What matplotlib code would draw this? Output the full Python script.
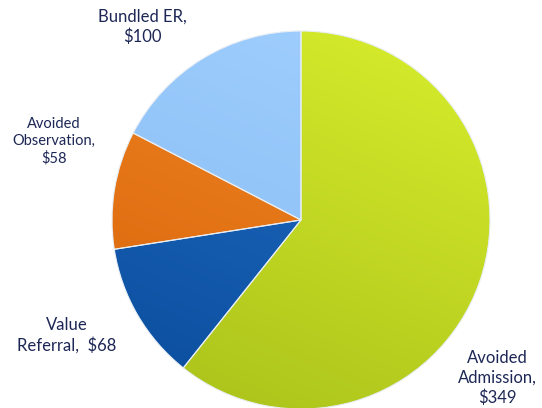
import matplotlib
matplotlib.use("Agg")
import matplotlib.pyplot as plt
import numpy as np
from matplotlib.colors import LinearSegmentedColormap

labels = ["Avoided\nAdmission,\n$349", "Value\nReferral,  $68",
          "Avoided\nObservation,\n$58", "Bundled ER,\n$100"]
values = [349, 68, 58, 100]
# (light, dark) pairs for the shaded look
shades = [("#d8ee2c", "#a9c01a"), ("#2370c8", "#0a4c9c"),
          ("#f38c26", "#d8620a"), ("#a2d0ff", "#84baf2")]

W, H = 542, 408
fig = plt.figure(figsize=(W / 100, H / 100), dpi=100)
ax = fig.add_axes([0, 0, 1, 1])

cx, cy, r = 301, H - 220, 189
wedges, _ = ax.pie(values, center=(cx, cy), radius=r, startangle=90,
                   counterclock=False, frame=True,
                   wedgeprops=dict(edgecolor="#e8eef4", linewidth=0.8))
ax.set_xlim(0, W)
ax.set_ylim(0, H)
ax.set_aspect("equal")
ax.axis("off")

# gradient fill clipped to each wedge, light at the top
yy, xx = np.mgrid[0:1:200j, 0:1:200j]
grad = 0.7 * yy + 0.3 * xx
for w, (lt, dk) in zip(wedges, shades):
    cmap = LinearSegmentedColormap.from_list("g", [dk, lt])
    im = ax.imshow(grad, cmap=cmap, origin="lower",
                   extent=(cx - r, cx + r, cy - r, cy + r), zorder=1.5)
    im.set_clip_path(w)
    w.set_zorder(2)
    w.set_facecolor("none")

txt = dict(color="#1d2756", ha="center", va="center", family=["Lato", "DejaVu Sans"],
           linespacing=1.25)
ax.text(142, H - 27, labels[3], fontsize=12, **txt)
ax.text(54, H - 141, labels[2], fontsize=10.5, **txt)
ax.text(67, H - 335, labels[1], fontsize=12, **txt)
ax.text(497, H - 378, labels[0], fontsize=12, **txt)

fig.savefig("out.png", dpi=100)
